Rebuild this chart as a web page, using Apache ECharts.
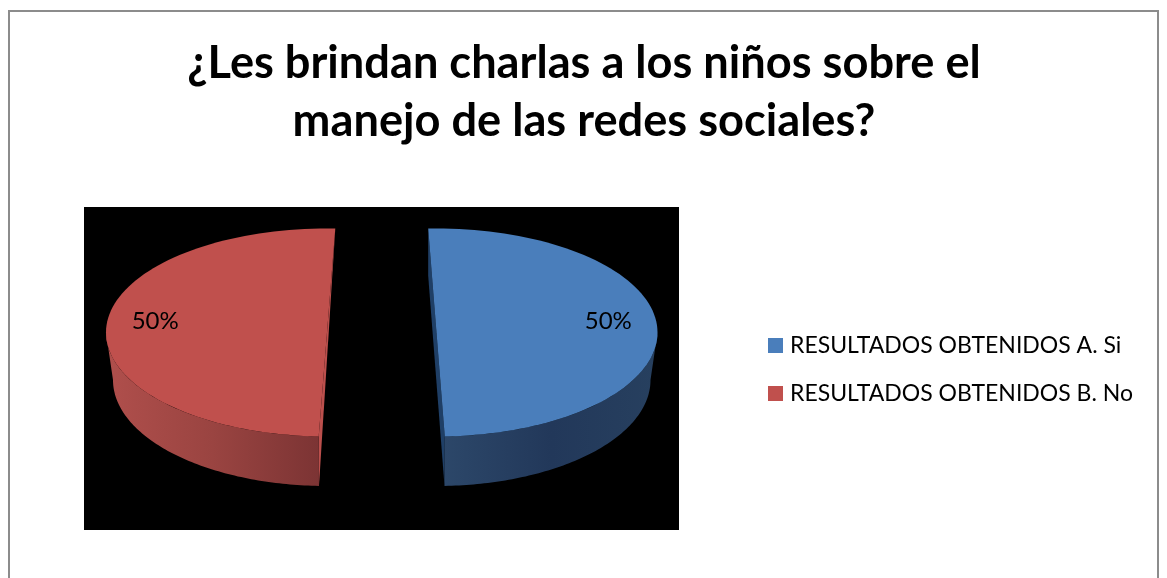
<!DOCTYPE html>
<html>
<head>
<meta charset="utf-8">
<style>html,body{margin:0;padding:0;background:#fff}#c{width:1167px;height:578px}</style>
<script src="https://cdn.jsdelivr.net/npm/echarts@6/dist/echarts.min.js"></script>
</head>
<body>
<div id="c"></div>
<script>
const titleText = '¿Les brindan charlas a los niños sobre el\nmanejo de las redes sociales?';
const categories = ['RESULTADOS OBTENIDOS A. Si', 'RESULTADOS OBTENIDOS B. No'];
const values = [50, 50];
const total = values.reduce((a, b) => a + b, 0);

const topColors = ['#4a7ebb', '#c0504d'];
const wallStops = [['#2c4769', '#22385a', '#27405f'], ['#b04f4c', '#9a4441', '#7c3434']];
const cutColors = ['#1f3f66', '#bb4f4c'];

const RX = 221, RY = 104, RX2 = 214, RY2 = 106, CY = 332.5, CY2 = 380;
const PIE_X = 381.75, EXPLODE = 54.75, TILT = 2.15;

function deg(d) { return d * Math.PI / 180; }

function pt(cx, cy, rx, ry, t) {
  return [cx + rx * Math.sin(deg(t)), cy - ry * Math.cos(deg(t))];
}

function arc(cx, cy, rx, ry, from, to) {
  const out = [];
  const n = 90;
  for (let i = 0; i <= n; i++) out.push(pt(cx, cy, rx, ry, from + (to - from) * i / n));
  return out;
}

function sliceRenderer(idx) {
  return function (params, api) {
    const v = api.value(0);
    const before = values.slice(0, idx).reduce((a, b) => a + b, 0);
    const sweep = v / total * 360;
    const dir = idx === 0 ? -1 : 1;
    const start = before / total * 360 + dir * TILT;
    const end = start + sweep;
    const cx = PIE_X - dir * EXPLODE;

    const top = [[cx, CY]].concat(arc(cx, CY, RX, RY, start, end));

    const wf = Math.max(start, 90), wt = Math.min(end, 270);
    const wall = arc(cx, CY, RX, RY, wf, wt).concat(arc(cx, CY2, RX2, RY2, wf, wt).reverse());
    const stops = wallStops[idx];

    const a1 = pt(cx, CY, RX, RY, start), a2 = pt(cx, CY, RX, RY, end);
    const b1 = [a1[0], a1[1] + CY2 - CY], b2 = pt(cx, CY2, RX2, RY2, idx === 0 ? end : start);
    const cut = [a1, a2, b2, b1];

    const mid = (start + end) / 2;
    const lp = pt(cx, CY - 8, RX * 0.778, RY * 0.778, mid);

    return {
      type: 'group',
      children: [
        { type: 'polygon', shape: { points: cut }, style: { fill: cutColors[idx] } },
        {
          type: 'polygon', shape: { points: wall },
          style: {
            fill: new echarts.graphic.LinearGradient(0, 0, 1, 0, [
              { offset: 0, color: stops[0] }, { offset: 0.5, color: stops[1] }, { offset: 1, color: stops[2] }
            ])
          }
        },
        { type: 'polygon', shape: { points: top }, style: { fill: topColors[idx] } },
        {
          type: 'text',
          style: {
            x: lp[0], y: lp[1], text: Math.round(v / total * 100) + '%',
            fill: '#000', font: '24px Lato', align: 'center', verticalAlign: 'middle'
          }
        }
      ]
    };
  };
}

const chart = echarts.init(document.getElementById('c'), null, { renderer: 'canvas' });
chart.setOption({
  animation: false,
  backgroundColor: '#ffffff',
  title: {
    text: titleText, left: 579, top: 29, textAlign: 'center',
    textStyle: { fontFamily: 'Lato', fontWeight: 'bold', fontSize: 45.2, lineHeight: 58, color: '#000' }
  },
  legend: {
    orient: 'vertical', left: 763, top: 329, icon: 'rect', itemWidth: 15, itemHeight: 15, itemGap: 25,
    selectedMode: false,
    data: categories,
    textStyle: { fontFamily: 'Lato', fontSize: 23, color: '#000', padding: [0, 0, 0, 2] }
  },
  graphic: [
    { type: 'rect', z: -2, silent: true, shape: { x: 9, y: 11, width: 1149, height: 600 }, style: { fill: '#fff', stroke: '#8c8c8c', lineWidth: 2 } },
    { type: 'rect', z: -1, silent: true, shape: { x: 84, y: 207, width: 595, height: 323 }, style: { fill: '#000' } }
  ],
  series: categories.map((name, i) => ({
    type: 'custom', name, coordinateSystem: 'none', silent: true,
    itemStyle: { color: topColors[i] },
    data: [[values[i]]],
    renderItem: sliceRenderer(i)
  }))
});
</script>
</body>
</html>
